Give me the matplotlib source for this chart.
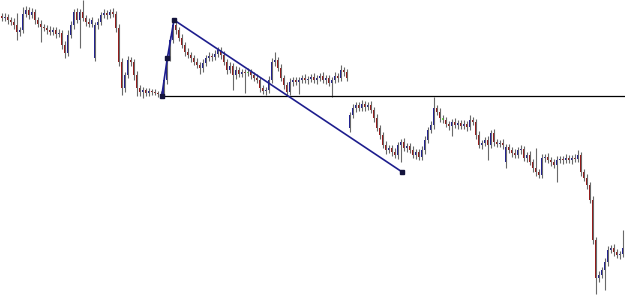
import numpy as np
import matplotlib
matplotlib.use("Agg")
import matplotlib.pyplot as plt

# Candle readings (vertical chart level, larger = lower on screen; axis is inverted)
opens = [16,18,17,20,22,25,32,30,14,10,
         15,12,20,24,27,28,30,32,30,34,
         33,45,53,35,25,12,20,12,18,22,
         24,58,25,22,15,13,15,12,14,28,
         62,88,75,60,62,75,88,92,90,93,
         91,92,93,94,95,80,58,40,25,30,
         38,45,52,55,58,62,65,68,63,58,
         56,57,54,50,55,62,70,66,75,70,
         74,72,73,72,75,78,80,88,91,90,
         80,62,60,68,78,85,92,82,80,82,
         80,78,80,79,77,80,78,76,80,78,
         83,80,76,78,70,72,128,115,108,105,
         108,104,107,105,110,118,128,135,145,150,
         148,152,155,145,142,148,146,150,155,152,
         157,150,140,130,125,108,112,118,120,124,
         126,122,125,123,126,124,127,120,122,135,
         145,143,140,145,133,142,144,143,162,147,
         150,153,155,150,149,158,155,162,168,172,
         175,158,157,160,162,165,160,159,160,158,
         160,158,159,155,172,178,185,200,240,278,
         275,270,262,250,248,252,255,254]
closes = [18,17,20,22,25,32,30,14,10,15,
          12,20,24,27,28,30,32,30,34,33,
          45,53,35,25,12,20,12,18,22,24,
          20,25,22,15,13,15,12,14,28,62,
          88,75,60,62,75,88,92,90,93,91,
          92,93,94,95,80,58,40,25,30,38,
          45,52,55,58,62,65,68,63,58,56,
          57,54,50,55,62,70,66,75,70,74,
          72,73,72,75,78,80,88,91,90,80,
          62,60,68,78,85,92,82,80,82,80,
          78,80,79,77,80,78,76,80,78,83,
          80,76,78,70,72,78,115,108,105,108,
          104,107,105,110,118,128,135,145,150,148,
          152,155,145,142,148,146,150,155,152,157,
          150,140,130,125,108,112,118,120,124,126,
          122,125,123,126,124,127,120,122,135,145,
          143,140,145,133,142,144,143,145,147,150,
          153,155,150,149,158,155,162,168,172,175,
          158,157,160,162,165,160,159,160,158,160,
          158,159,155,172,178,185,200,240,278,275,
          270,262,250,248,252,255,254,248]
wick_up = [3,4,3,3,4,12,3,7,4,3,
           4,3,3,4,3,3,4,3,3,4,
           3,4,5,4,3,4,3,12,3,4,
           3,3,4,3,4,3,3,4,3,4,
           4,3,4,3,3,4,3,3,2,3,
           2,3,2,3,4,4,4,3,4,3,
           4,3,4,3,3,4,3,4,3,4,
           3,4,3,3,4,3,4,3,4,3,
           3,3,4,3,3,4,3,3,3,4,
           4,8,3,4,3,3,4,3,3,3,
           3,4,3,3,4,3,3,4,3,3,
           3,4,3,5,3,3,3,4,3,3,
           4,3,3,4,3,4,3,3,4,3,
           3,4,3,3,4,3,3,4,3,3,
           4,4,3,4,11,3,4,3,3,3,
           3,4,3,3,4,3,5,3,3,4,
           3,3,4,3,4,3,3,4,3,3,
           3,4,3,4,3,3,4,3,20,3,
           4,3,4,3,3,4,3,3,4,3,
           3,4,5,3,3,4,3,4,3,4,
           3,4,4,3,4,3,3,18]
wick_dn = [3,3,4,3,4,8,4,3,3,4,
           3,4,3,15,3,4,3,3,4,3,
           4,5,3,3,4,3,28,3,4,3,
           3,3,4,3,3,4,3,3,4,4,
           7,4,3,4,5,8,4,6,3,3,
           3,2,3,2,3,4,3,3,4,3,
           3,4,3,4,3,3,6,4,3,3,
           4,3,3,4,3,4,3,15,4,3,
           3,20,3,4,3,3,4,3,4,3,
           3,4,3,3,4,4,3,4,3,12,
           3,3,4,3,3,4,3,3,4,3,
           14,3,4,3,4,3,4,3,4,3,
           3,4,3,3,4,3,4,3,4,3,
           4,3,4,17,3,4,3,3,4,3,
           3,4,3,3,4,3,4,3,3,4,
           10,3,4,3,3,4,3,3,4,3,
           4,3,15,3,4,3,3,4,6,3,
           4,3,3,4,3,4,3,4,4,3,
           3,4,3,4,3,17,3,4,3,3,
           4,3,3,4,3,4,3,4,16,4,
           3,20,4,3,4,3,4,3]
marked_idx = [82, 147]

# Drawn pattern anchors (candle index, level)
pattern_idx = [53.4, 55.27, 57.5, 133.4]
pattern_lvl = [96.3, 58.3, 20.0, 171.7]
hline_lvl = 95.5
hline_start = 53.4

o = np.array(opens, float)
c = np.array(closes, float)
idx = np.arange(len(o))
top = np.minimum(o, c)
bot = np.maximum(o, c)
hi = top - np.array(wick_up)
lo = bot + np.array(wick_dn)

bull = c < o
cols = np.where(bull, '#232390', '#941c1c').astype(object)
for k in marked_idx:
    cols[k] = '#5ee83a'
h = np.maximum(bot - top, 1.0)

fig = plt.figure(figsize=(6.25, 2.99), dpi=100)
ax = fig.add_axes([0, 0, 1, 1])
ax.vlines(idx, hi, lo, color='#6a6a6a', lw=0.8, zorder=1)
ax.bar(idx, h, bottom=top, width=0.55, color=list(cols), linewidth=0, zorder=2)

ax.plot([hline_start, 210], [hline_lvl, hline_lvl], color='black', lw=0.9, zorder=3)
ax.plot(pattern_idx, pattern_lvl, color='#1e1e8e', lw=1.2, zorder=4)
ax.plot(pattern_idx, pattern_lvl, 's', color='#14143c', ms=3.0, zorder=5, lw=0)

ax.set_xlim(-0.5, 207.83)
ax.set_ylim(299, 0)
ax.axis('off')
fig.savefig('out.png', dpi=100)
